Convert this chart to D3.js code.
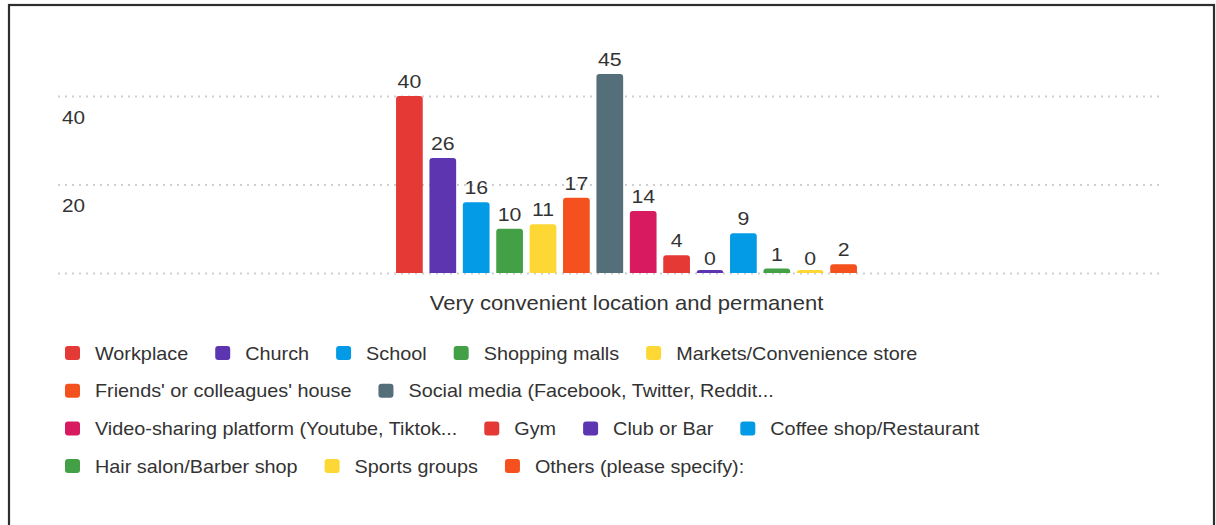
<!DOCTYPE html>
<html><head><meta charset="utf-8">
<script src="https://cdn.jsdelivr.net/npm/d3@7"></script>
<style>
html,body{margin:0;padding:0;background:#fff;}
svg{display:block;font-family:"Liberation Sans",Arial,sans-serif;}
</style>
</head><body>
<svg id="chart" width="1216" height="525"></svg>
<script>
const categories = [
  "Workplace", "Church", "School", "Shopping malls", "Markets/Convenience store",
  "Friends' or colleagues' house", "Social media (Facebook, Twitter, Reddit...",
  "Video-sharing platform (Youtube, Tiktok...", "Gym", "Club or Bar",
  "Coffee shop/Restaurant", "Hair salon/Barber shop", "Sports groups",
  "Others (please specify):"
];
const values = [40, 26, 16, 10, 11, 17, 45, 14, 4, 0, 9, 1, 0, 2];
const colors = [
  "#e53935", "#5e35b1", "#039be5", "#43a047", "#fdd835", "#f4511e", "#546e7a",
  "#d81b60", "#e53935", "#5e35b1", "#039be5", "#43a047", "#fdd835", "#f4511e"
];
const groupLabel = "Very convenient location and permanent";
const yTickValues = [0, 20, 40];
const yTickLabels = ["", "20", "40"];

const svg = d3.select("#chart");
const textColor = "#333";
const stretch = 1.12;

// frame
svg.append("rect").attr("x", 9).attr("y", 5).attr("width", 1205).attr("height", 540)
  .attr("fill", "#fff").attr("stroke", "#2e2e2e").attr("stroke-width", 2.2);

const y = d3.scaleLinear().domain([0, 40]).range([273, 96]);
const x = d3.scaleBand().domain(categories).range([392.7, 860.3])
  .paddingInner(0.2).paddingOuter(0.1);

// gridlines + tick labels via axis
const gridLeft = 58, gridRight = 1162;
const axis = d3.axisRight(y).tickValues(yTickValues)
  .tickSize(gridRight - gridLeft)
  .tickFormat(d => yTickLabels[yTickValues.indexOf(d)]);
const ag = svg.append("g").attr("transform", `translate(${gridLeft},0)`).call(axis);
ag.select(".domain").remove();
ag.selectAll(".tick line").attr("stroke", "#cfcfcf").attr("stroke-width", 2)
  .attr("stroke-dasharray", "2,5");
ag.selectAll(".tick text")
  .attr("x", 0).attr("y", 0).attr("dy", null)
  .attr("text-anchor", "start")
  .attr("transform", `translate(4,27) scale(${stretch},1)`)
  .attr("fill", textColor).style("font-size", "18.5px")
  .style("font-family", '"Liberation Sans",Arial,sans-serif');

// bars
function roundedTop(x0, y0, w, h, r) {
  r = Math.min(r, h, w / 2);
  return `M${x0},${y0 + h}V${y0 + r}Q${x0},${y0} ${x0 + r},${y0}H${x0 + w - r}Q${x0 + w},${y0} ${x0 + w},${y0 + r}V${y0 + h}Z`;
}
const data = categories.map((c, i) => ({ c, v: values[i], col: colors[i] }));
svg.append("g").selectAll("path").data(data).join("path")
  .attr("d", d => {
    const h = Math.max(y(0) - y(d.v), 3);
    return roundedTop(x(d.c), y(0) - h, x.bandwidth(), h, 3);
  })
  .attr("fill", d => d.col);

// value labels
svg.append("g").selectAll("text").data(data).join("text")
  .attr("transform", d => `translate(${x(d.c) + x.bandwidth() / 2},${y(d.v) - 8}) scale(${stretch},1)`)
  .attr("text-anchor", "middle")
  .attr("fill", textColor).style("font-size", "19px")
  .text(d => d.v);

// group label
svg.append("text")
  .attr("transform", `translate(${(x.range()[0] + x.range()[1]) / 2},310) scale(${stretch},1)`)
  .attr("text-anchor", "middle").attr("fill", textColor).style("font-size", "19.7px")
  .text(groupLabel);

// legend
const legend = svg.append("g");
const startX = 65, maxRight = 1165, rowY0 = 353, rowH = 37.7, gap = 27;
let cx = startX, row = 0;
data.forEach((d) => {
  const t = legend.append("text")
    .attr("fill", textColor).style("font-size", "17.7px")
    .text(d.c);
  const tw = t.node().getComputedTextLength() * stretch;
  const itemW = 30 + tw;
  if (cx > startX && cx + itemW > maxRight) { row += 1; cx = startX; }
  const cy = rowY0 + row * rowH;
  legend.append("rect").attr("x", cx).attr("y", cy - 7).attr("width", 15).attr("height", 14)
    .attr("rx", 3).attr("fill", d.col);
  t.attr("transform", `translate(${cx + 30},${cy + 6.5}) scale(${stretch},1)`);
  cx += itemW + gap;
});
</script>
</body></html>
